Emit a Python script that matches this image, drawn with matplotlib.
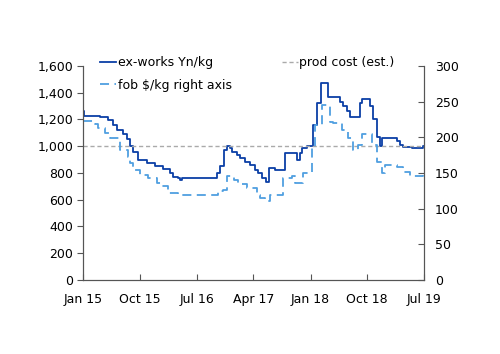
import pandas as pd
import matplotlib.pyplot as plt
import matplotlib.dates as mdates

# ex-works price, Yn/kg (left axis)
ex_dates = ['2015-01-01', '2015-01-08', '2015-03-24', '2015-05-01', '2015-05-25', '2015-06-14',
            '2015-07-13', '2015-08-01', '2015-08-15', '2015-08-30', '2015-09-23', '2015-11-05',
            '2015-12-14', '2016-01-21', '2016-02-24', '2016-03-09', '2016-04-02', '2016-04-12',
            '2016-04-22', '2016-10-05', '2016-10-20', '2016-11-08', '2016-11-25', '2016-12-09',
            '2016-12-18', '2017-01-12', '2017-01-26', '2017-02-19', '2017-03-15', '2017-04-08',
            '2017-04-23', '2017-05-12', '2017-05-31', '2017-06-15', '2017-07-13', '2017-08-31',
            '2017-10-27', '2017-11-11', '2017-11-21', '2017-12-15', '2018-01-13', '2018-02-01',
            '2018-02-20', '2018-03-26', '2018-05-22', '2018-06-06', '2018-06-25', '2018-07-10',
            '2018-08-27', '2018-09-05', '2018-10-14', '2018-10-28', '2018-11-16', '2018-12-01',
            '2018-12-11', '2019-02-21', '2019-03-07', '2019-03-22', '2019-05-04', '2019-06-25',
            '2019-07-01']
ex_works = [1265, 1225, 1215, 1195, 1160, 1120,
            1090, 1050, 1000, 960, 900, 875,
            850, 830, 800, 770, 760, 750,
            760, 800, 850, 970, 1000, 985,
            955, 935, 910, 880, 860, 820,
            800, 760, 730, 835, 820, 950,
            900, 950, 985, 1000, 1160, 1320,
            1475, 1370, 1330, 1300, 1260, 1220,
            1320, 1355, 1300, 1200, 1070, 1000,
            1060, 1035, 1010, 990, 985, 1000,
            1000]

# fob price, $/kg (right axis)
fob_dates = ['2015-01-01', '2015-02-28', '2015-03-14', '2015-04-17', '2015-05-11', '2015-06-28',
             '2015-08-06', '2015-08-15', '2015-08-30', '2015-10-02', '2015-11-10', '2015-12-23',
             '2016-01-16', '2016-02-14', '2016-04-02', '2016-10-12', '2016-11-05', '2016-11-24',
             '2016-12-28', '2017-01-16', '2017-03-01', '2017-04-18', '2017-05-02', '2017-05-26',
             '2017-06-19', '2017-08-21', '2017-10-03', '2017-10-18', '2017-11-25', '2018-01-08',
             '2018-01-22', '2018-02-25', '2018-04-05', '2018-04-19', '2018-06-01', '2018-06-30',
             '2018-07-24', '2018-08-17', '2018-09-05', '2018-10-24', '2018-11-16', '2018-12-11',
             '2018-12-25', '2019-02-21', '2019-03-22', '2019-04-25', '2019-06-26', '2019-07-01']
fob = [223, 218, 213, 206, 199, 182,
       173, 164, 154, 147, 143, 136,
       131, 122, 119, 124, 126, 145,
       140, 135, 129, 119, 115, 110,
       119, 143, 145, 136, 150, 185,
       217, 245, 222, 220, 210, 199,
       182, 189, 205, 189, 166, 150,
       161, 159, 152, 145, 150, 150]

prod_cost = 1000

tick_dates = ['2015-01-01', '2015-10-01', '2016-07-01', '2017-04-01',
              '2018-01-01', '2018-10-01', '2019-07-01']

dark_blue = '#0b3fa6'
light_blue = '#4f9fe0'
spine_col = '#555555'

fig = plt.figure(figsize=(5, 3.54), dpi=100)
ax = fig.add_axes([0.166, 0.209, 0.682, 0.605])
ax2 = ax.twinx()

ax.plot(pd.to_datetime(ex_dates), ex_works, color=dark_blue, lw=1.3,
        drawstyle='steps-post', label='ex-works Yn/kg')
ax.axhline(prod_cost, color='#aaaaaa', lw=1, ls=(0, (3, 2)), label='prod cost (est.)')
ax2.plot(pd.to_datetime(fob_dates), fob, color=light_blue, lw=1.3, ls=(0, (5, 3)),
         drawstyle='steps-post', label='fob $/kg right axis')

ax.set_xlim(pd.Timestamp('2015-01-01'), pd.Timestamp('2019-07-01'))
ax.set_ylim(0, 1600)
ax2.set_ylim(0, 300)
ax.set_yticks(range(0, 1601, 200))
ax.set_yticklabels([f'{v:,}' for v in range(0, 1601, 200)])
ax2.set_yticks(range(0, 301, 50))

ax.set_xticks(pd.to_datetime(tick_dates))
ax.xaxis.set_major_formatter(mdates.DateFormatter('%b %y'))

for a in (ax, ax2):
    a.spines['top'].set_visible(False)
    for s in ('left', 'right', 'bottom'):
        a.spines[s].set_color(spine_col)
ax.tick_params(axis='y', direction='out', length=4, color=spine_col, labelsize=9, pad=3)
ax.tick_params(axis='x', direction='in', length=4, color=spine_col, labelsize=9, pad=9)
ax2.tick_params(axis='y', direction='in', length=4, color=spine_col, labelsize=9, pad=8)

h1, l1 = ax.get_legend_handles_labels()
h2, l2 = ax2.get_legend_handles_labels()
handles = [h1[0], h2[0], h1[1]]
labels = [l1[0], l2[0], l1[1]]
fig.legend(handles, labels, ncol=2, loc='upper left', bbox_to_anchor=(0.19, 0.855),
           frameon=False, fontsize=9, handlelength=1.3, handletextpad=0.1,
           columnspacing=4.0, labelspacing=0.75, borderaxespad=0)

fig.savefig('out.png', dpi=100)
